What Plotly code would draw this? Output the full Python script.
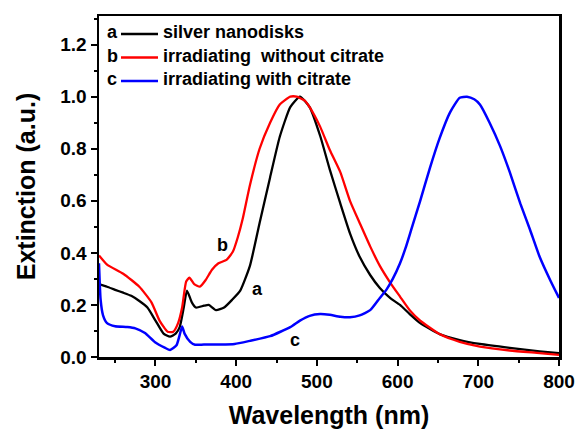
import plotly.graph_objects as go

# Series a: silver nanodisks (black)
wl_a = [230, 240, 250, 260, 270, 280, 290, 300, 310, 318, 325, 330, 335, 339, 345, 350, 360, 366, 375, 385,
        395, 405, 417, 429, 442, 454, 467, 479, 491, 504, 516, 529, 541, 553, 566, 578, 591, 603, 615, 628,
        652, 677, 702, 739, 776, 800]
ext_a = [0.28, 0.27, 0.258, 0.247, 0.235, 0.215, 0.19, 0.14, 0.09, 0.078, 0.09, 0.115, 0.19, 0.255, 0.21, 0.19,
         0.197, 0.2, 0.18, 0.19, 0.22, 0.255, 0.35, 0.515, 0.69, 0.846, 0.96, 1.0, 0.96, 0.85, 0.72, 0.59, 0.475,
         0.385, 0.315, 0.265, 0.226, 0.2, 0.165, 0.13, 0.088, 0.065, 0.05, 0.035, 0.022, 0.015]

# Series b: irradiating without citrate (red)
wl_b = [230, 240, 260, 280, 295, 305, 315, 322, 328, 333, 338, 342, 348, 355, 362, 370, 378, 388, 396, 402,
        408, 417, 429, 442, 454, 467, 475, 485, 491, 504, 516, 529, 541, 553, 566, 578, 591, 603, 615, 628,
        652, 677, 702, 739, 776, 800]
ext_b = [0.39, 0.355, 0.32, 0.27, 0.21, 0.14, 0.097, 0.097, 0.13, 0.19, 0.29, 0.305, 0.28, 0.27, 0.295, 0.335,
         0.36, 0.373, 0.405, 0.46, 0.53, 0.66, 0.8, 0.9, 0.97, 1.0, 1.0, 0.985, 0.96, 0.885, 0.795, 0.71, 0.6,
         0.515, 0.425, 0.35, 0.285, 0.232, 0.18, 0.14, 0.088, 0.058, 0.04, 0.025, 0.015, 0.008]

# Series c: irradiating with citrate (blue)
wl_c = [230, 232, 235, 240, 250, 265, 275, 287, 299, 312, 318, 326, 330, 333, 336, 343, 349, 360, 380, 398,
        417, 442, 467, 479, 491, 504, 516, 529, 541, 553, 566, 578, 586, 594, 603, 610, 617, 628, 640, 652,
        665, 677, 686, 695, 702, 714, 727, 739, 752, 764, 776, 789, 800]
ext_c = [0.36, 0.22, 0.16, 0.13, 0.118, 0.115, 0.11, 0.092, 0.058, 0.035, 0.027, 0.045, 0.085, 0.117, 0.09,
         0.058, 0.047, 0.048, 0.048, 0.05, 0.062, 0.08, 0.115, 0.14, 0.158, 0.165, 0.162, 0.155, 0.153, 0.16,
         0.18, 0.227, 0.258, 0.3, 0.36, 0.42, 0.49, 0.6, 0.726, 0.84, 0.94, 0.996, 1.0, 0.99, 0.97, 0.9, 0.81,
         0.71, 0.59, 0.49, 0.385, 0.296, 0.227]

series_letters = ["a", "b", "c"]
series_names = ["silver nanodisks", "irradiating\u00a0 without citrate", "irradiating with citrate"]
series_colors = ["#000000", "#ff0000", "#0000ff"]

x_ticks = [300, 400, 500, 600, 700, 800]
y_ticks = [0.0, 0.2, 0.4, 0.6, 0.8, 1.0, 1.2]

FONT = "Liberation Sans, Arial, sans-serif"

fig = go.Figure()
for wl, ext, col, w in [(wl_a, ext_a, series_colors[0], 2.3),
                        (wl_b, ext_b, series_colors[1], 2.3),
                        (wl_c, ext_c, series_colors[2], 2.5)]:
    fig.add_trace(go.Scatter(x=wl, y=ext, mode="lines",
                             line=dict(color=col, width=w, shape="spline", smoothing=0.5),
                             showlegend=False, hoverinfo="skip"))

# in-plot curve labels
for txt, xv, yv in [("a", 426, 0.26), ("b", 383, 0.43), ("c", 473, 0.065)]:
    fig.add_annotation(x=xv, y=yv, text=txt, showarrow=False,
                       font=dict(family=FONT, size=18, color="black", weight="bold"))

# manual legend: letter, line sample, label (paper coords)
L, W_, T, H_ = 99, 460, 16, 341
def px(xp):
    return (xp - L) / W_
def py(yp):
    return (T + H_ - yp) / H_

for i, (let, name, col) in enumerate(zip(series_letters, series_names, series_colors)):
    yrow = 32 + i * 23.5
    fig.add_annotation(xref="paper", yref="paper", x=px(112), y=py(yrow), text=let, showarrow=False,
                       xanchor="center", yanchor="middle",
                       font=dict(family=FONT, size=18, color="black", weight="bold"))
    fig.add_shape(type="line", xref="paper", yref="paper", x0=px(121), x1=px(158),
                  y0=py(yrow + 2), y1=py(yrow + 2), line=dict(color=col, width=2.3))
    fig.add_annotation(xref="paper", yref="paper", x=px(161), y=py(yrow), text=name, showarrow=False,
                       xanchor="left", yanchor="middle",
                       font=dict(family=FONT, size=18, color="black", weight="bold"))

fig.update_xaxes(range=[230, 800], tickvals=x_ticks, ticktext=[str(v) for v in x_ticks],
                 ticks="outside", ticklen=6, tickwidth=2, tickcolor="black",
                 minor=dict(ticks="outside", ticklen=3, tickwidth=2, tickcolor="black", dtick=50, tick0=250),
                 showline=True, linewidth=2.5, linecolor="black", mirror=True, showgrid=False, zeroline=False,
                 automargin=False,
                 tickfont=dict(family=FONT, size=19, color="black", weight="bold"),
                 title=dict(text="Wavelength (nm)", standoff=18,
                            font=dict(family=FONT, size=25, color="black", weight="bold")))
fig.update_yaxes(range=[0, 1.31], tickvals=y_ticks, ticktext=["%.1f" % v for v in y_ticks],
                 ticks="outside", ticklen=6, tickwidth=2, tickcolor="black",
                 minor=dict(ticks="outside", ticklen=3, tickwidth=2, tickcolor="black", dtick=0.1, tick0=0.1),
                 showline=True, linewidth=2.5, linecolor="black", mirror=True, showgrid=False, zeroline=False,
                 automargin=False,
                 tickfont=dict(family=FONT, size=19, color="black", weight="bold"),
                 title=dict(text="Extinction (a.u.)", standoff=18,
                            font=dict(family=FONT, size=25, color="black", weight="bold")))

fig.update_layout(width=577, height=429, margin=dict(l=99, r=18, t=16, b=72),
                  paper_bgcolor="white", plot_bgcolor="white", showlegend=False,
                  font=dict(family=FONT, color="black"))

fig.write_html("out.html", config={"displayModeBar": False, "staticPlot": True},
               post_script="document.body.style.margin='0';document.body.style.overflow='hidden';")
